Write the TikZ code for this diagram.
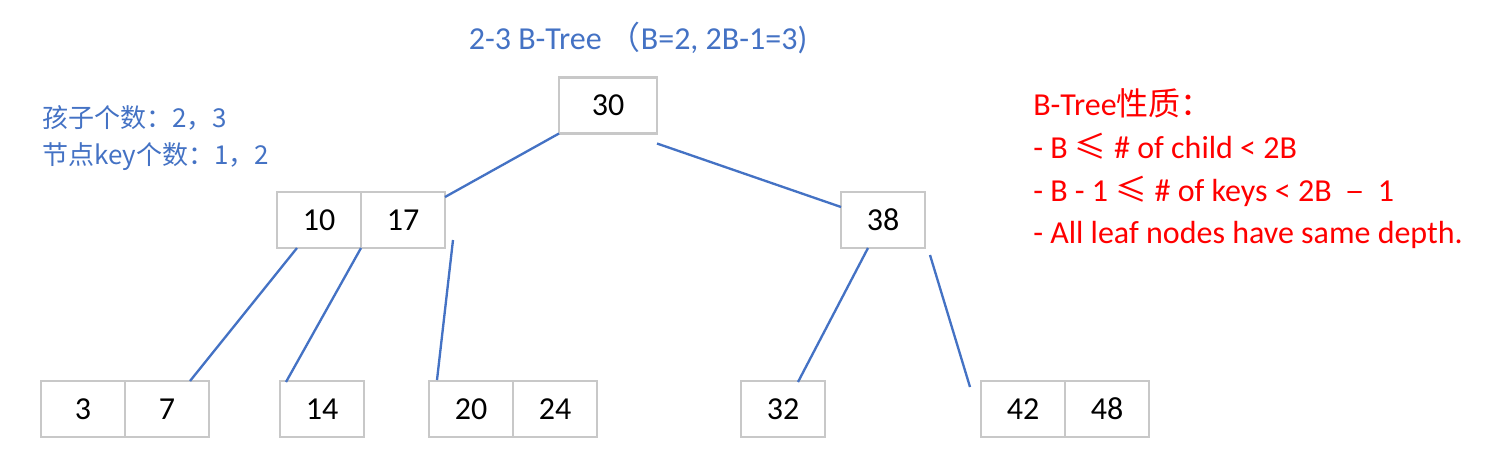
\documentclass[tikz,border=0pt]{standalone}
\usepackage{fontspec}
\setmainfont{Carlito}
\newfontfamily\cjk{Noto Sans CJK SC}
\usetikzlibrary{positioning,calc}
\definecolor{treeBlue}{RGB}{68, 114, 196}
\definecolor{treeRed}{RGB}{255, 0, 0}
\definecolor{boxGray}{RGB}{200, 200, 200}

\begin{document}
\begin{tikzpicture}[
        x=0.75pt, y=-0.75pt,
        keybox/.style={rectangle, draw=boxGray, line width=2pt, minimum width=63pt, minimum height=42pt, inner sep=0pt, outer sep=0pt, font=\fontsize{24pt}{28pt}\selectfont},
        rootbox/.style={keybox, minimum width=73.5pt},
        link/.style={draw=treeBlue, line width=1.75pt},
        note/.style={align=left, anchor=west, inner sep=0pt}
    ]
        \useasboundingbox (0,0) rectangle (1507,461);

        % Title
        \node[text=treeBlue, font=\fontsize{24pt}{28pt}\selectfont] (title) at (638,38) {2-3 B-Tree {\cjk （}B=2, 2B-1=3)};

        % Notes
        \node[note, text=treeBlue, font=\cjk\fontsize{19.5pt}{27.75pt}\selectfont] (counts) at (42,138.5) {孩子个数：2，3\\节点key个数：1，2};
        \node[note, text=treeRed, font=\fontsize{24pt}{32pt}\selectfont] (props) at (1033,169) {B-Tree{\cjk 性质：}\\- B {\cjk ≤} \# of child < 2B\\- B - 1 {\cjk ≤} \# of keys < 2B~ {\cjk –} ~1\\- All leaf nodes have same depth.};

        % Root
        \node[rootbox] (n30) at (608,105.5) {30};

        % Second level
        \node[keybox] (n10) at (319,220) {10};
        \node[keybox, right=0pt of n10] (n17) {17};
        \node[keybox] (n38) at (883,220) {38};

        % Leaves
        \node[keybox] (n3) at (83,409) {3};
        \node[keybox, right=0pt of n3] (n7) {7};
        \node[keybox] (n14) at (322,409) {14};
        \node[keybox] (n20) at (471,409) {20};
        \node[keybox, right=0pt of n20] (n24) {24};
        \node[keybox] (n32) at (783,409) {32};
        \node[keybox] (n42) at (1023,409) {42};
        \node[keybox, right=0pt of n42] (n48) {48};

        % Links
        \draw[link] (n30.south west) -- ($(n17.north east)+(0,5)$);
        \draw[link] ($(n30.south east)+(0,10)$) -- ($(n38.north west)+(0,15)$);
        \draw[link] ($(n10.south west)+(20,0)$) -- ($(n7.north)+(23,0)$);
        \draw[link] (n10.south east) -- ($(n14.north west)+(6,1)$);
        \draw[link] ($(n17.south east)+(8,-8)$) -- ($(n20.north west)+(8,-1)$);
        \draw[link] ($(n38.south)+(-15,0)$) -- ($(n32.north)+(15,1)$);
        \draw[link] ($(n38.south east)+(5,7)$) -- ($(n42.north west)+(-11,6)$);

    \end{tikzpicture}
\end{document}
